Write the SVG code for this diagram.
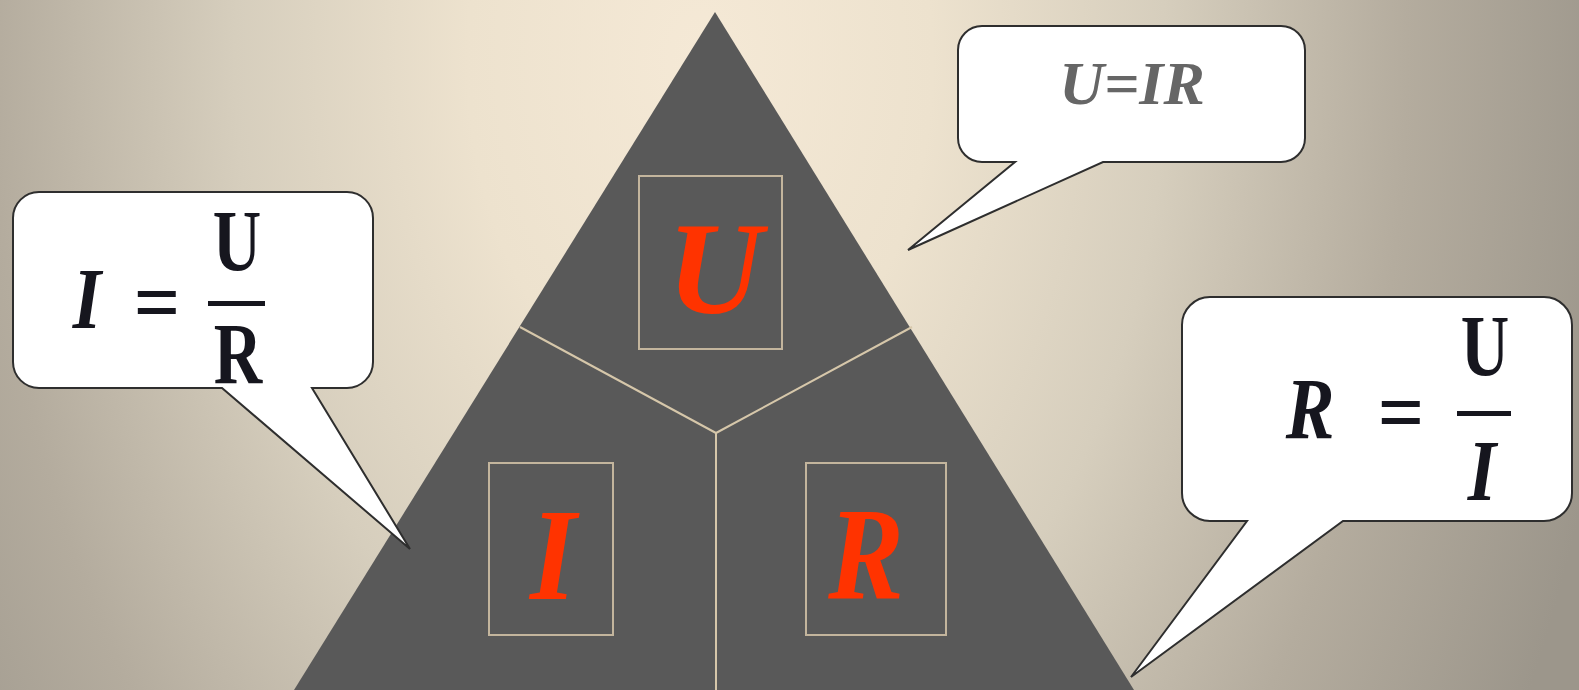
<svg xmlns="http://www.w3.org/2000/svg" width="1579" height="690" viewBox="0 0 1579 690">
  <defs>
    <radialGradient id="bg" gradientUnits="userSpaceOnUse" cx="700" cy="60" r="930" gradientTransform="translate(700,60) scale(1,1.5) translate(-700,-60)">
      <stop offset="0" stop-color="#f5e9d6"/>
      <stop offset="0.25" stop-color="#ede2ce"/>
      <stop offset="0.5" stop-color="#d6cebd"/>
      <stop offset="0.76" stop-color="#b4ac9e"/>
      <stop offset="1" stop-color="#9c968b"/>
    </radialGradient>
    <style>
      .tri { fill: #595959; }
      .div { stroke: #d6c7aa; stroke-width: 2; fill: none; }
      .box { fill: none; stroke: #c3b59d; stroke-width: 2; }
      .big { font-family: "Liberation Serif", serif; font-weight: bold; font-style: italic; font-size: 132px; fill: #ff3300; text-anchor: middle; }
      .bubble { fill: #ffffff; stroke: #2e2e2e; stroke-width: 2; stroke-linejoin: miter; }
      .math { font-family: "Liberation Serif", serif; font-weight: bold; font-size: 86px; fill: #16161e; text-anchor: middle; }
      .it { font-style: italic; }
      .bar { fill: #16161e; }
      .uir { font-family: "Liberation Serif", serif; font-weight: bold; font-style: italic; font-size: 62px; fill: #666666; text-anchor: middle; }
    </style>
  </defs>

  <rect x="0" y="0" width="1579" height="690" fill="url(#bg)"/>

  <g id="triangle">
    <polygon class="tri" points="715,12 1134,690 294,690"/>
  </g>

  <g id="connectors">
    <polyline class="div" points="520,327 716,433 912,327"/>
    <line class="div" x1="716" y1="433" x2="716" y2="690"/>
  </g>

  <g id="node-U">
    <rect class="box" x="639" y="176" width="143" height="173"/>
    <text class="big" x="715" y="313">U</text>
  </g>

  <g id="node-I">
    <rect class="box" x="489" y="463" width="124" height="172"/>
    <text class="big" transform="translate(553,599) scale(0.9,1)" x="0" y="0">I</text>
  </g>

  <g id="node-R">
    <rect class="box" x="806" y="463" width="140" height="172"/>
    <text class="big" transform="translate(866,599) scale(0.86,1)" x="0" y="0">R</text>
  </g>

  <g id="callout-I">
    <path class="bubble" d="M 39,192 H 347 A 26 26 0 0 1 373,218 V 362 A 26 26 0 0 1 347,388 H 312 L 410,549 L 222,388 H 39 A 26 26 0 0 1 13,362 V 218 A 26 26 0 0 1 39,192 Z"/>
    <text class="math it" transform="translate(87,328) scale(0.85,1)" x="0" y="0">I</text>
    <text class="math" transform="translate(157,331) scale(0.95,1)" x="0" y="0">=</text>
    <rect class="bar" x="208" y="301" width="57" height="5"/>
    <text class="math" transform="translate(237,270) scale(0.78,1)" x="0" y="0">U</text>
    <text class="math" transform="translate(238,383) scale(0.78,1)" x="0" y="0">R</text>
  </g>

  <g id="callout-U">
    <path class="bubble" d="M 982,26 H 1281 A 24 24 0 0 1 1305,50 V 138 A 24 24 0 0 1 1281,162 H 1103 L 908,250 L 1015,162 H 982 A 24 24 0 0 1 958,138 V 50 A 24 24 0 0 1 982,26 Z"/>
    <text class="uir" x="1132" y="104">U=IR</text>
  </g>

  <g id="callout-R">
    <path class="bubble" d="M 1210,297 H 1544 A 28 28 0 0 1 1572,325 V 493 A 28 28 0 0 1 1544,521 H 1343 L 1131,677 L 1247,521 H 1210 A 28 28 0 0 1 1182,493 V 325 A 28 28 0 0 1 1210,297 Z"/>
    <text class="math it" transform="translate(1310,438) scale(0.85,1)" x="0" y="0">R</text>
    <text class="math" transform="translate(1401,441) scale(0.95,1)" x="0" y="0">=</text>
    <rect class="bar" x="1457" y="411" width="54" height="5"/>
    <text class="math" transform="translate(1485,375) scale(0.78,1)" x="0" y="0">U</text>
    <text class="math it" transform="translate(1482,500) scale(0.85,1)" x="0" y="0">I</text>
  </g>
</svg>
